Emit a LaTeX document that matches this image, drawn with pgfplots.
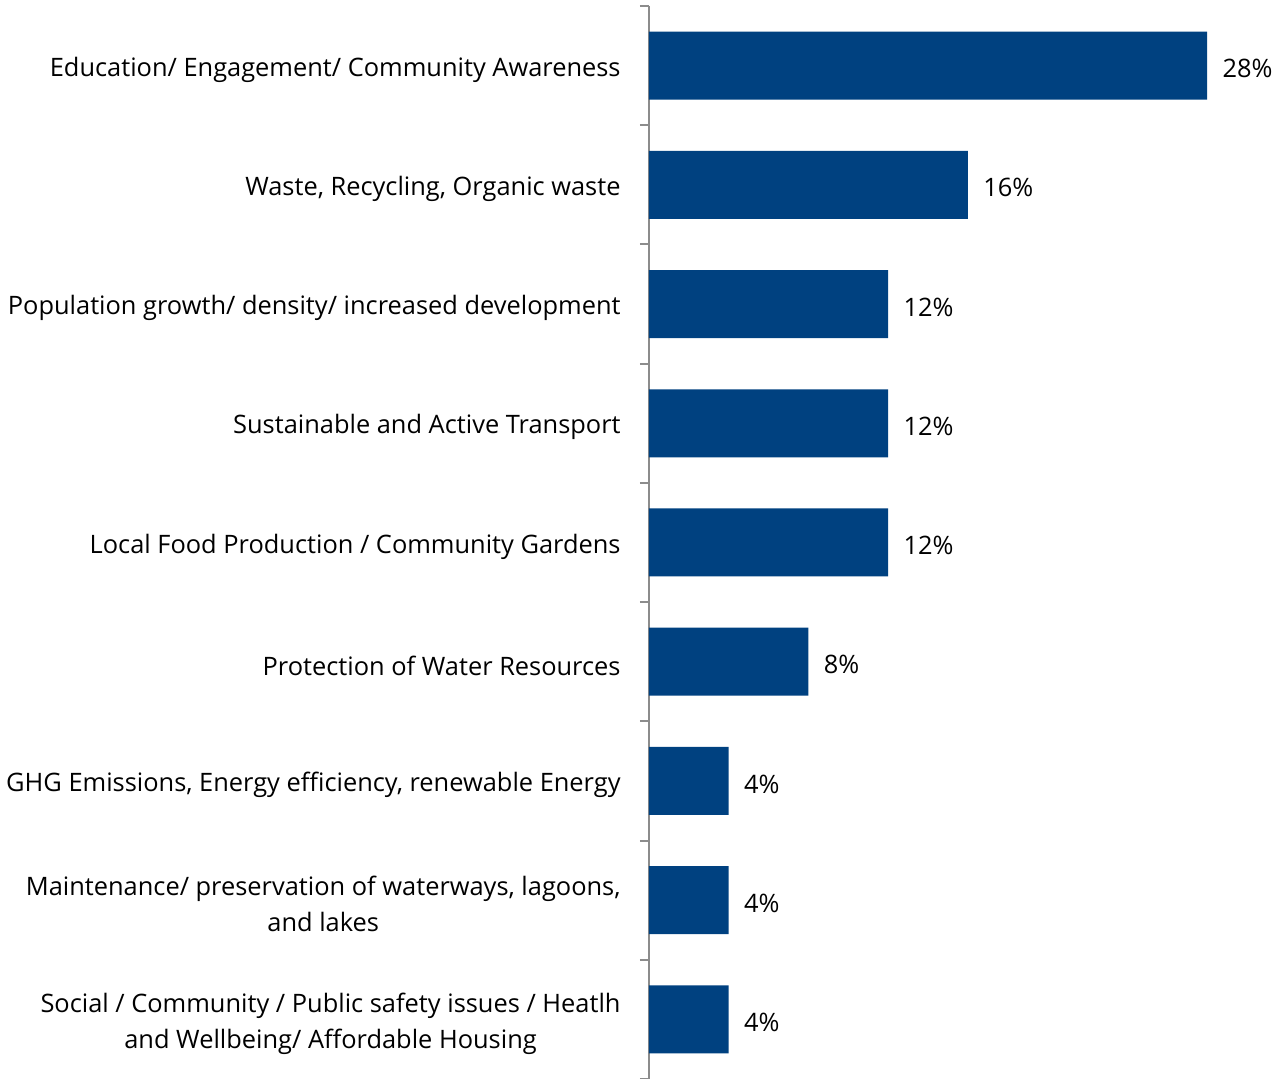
\documentclass[border=0pt]{standalone}
\usepackage{pgfplots}
\pgfplotsset{compat=1.18}
\usepackage{fontspec}
\setmainfont{Open Sans}
\definecolor{barblue}{RGB}{0,65,128}
\definecolor{axisgray}{RGB}{140,140,140}

\begin{document}
\begin{tikzpicture}
  \begin{axis}[
    at={(0,0)}, anchor=south west,
    scale only axis,
    width=299pt, height=536.5pt,
    xmin=0, xmax=30,
    ymin=-0.5, ymax=8.5,
    enlargelimits=false,
    axis x line=none,
    axis y line*=left,
    y axis line style={-, draw=axisgray, line width=1pt},
    ytick={0,...,8},
    yticklabels={
      {Social / Community / Public safety issues / Heatlh\\and Wellbeing/ Affordable Housing},
      {Maintenance/ preservation of waterways, lagoons,\\and lakes},
      {GHG Emissions, Energy efficiency, renewable Energy},
      {Protection of Water Resources},
      {Local Food Production / Community Gardens},
      {Sustainable and Active Transport},
      {Population growth/ density/ increased development},
      {Waste, Recycling, Organic waste},
      {Education/ Engagement/ Community Awareness}},
    minor ytick={-0.5,0.5,...,8.5},
    tick align=outside,
    major tick length=0pt,
    minor tick length=4.5pt,
    minor tick style={draw=axisgray, line width=1pt},
    yticklabel style={align=center, inner sep=0pt, xshift=-14pt, yshift=-2pt,
      font=\fontsize{12.7}{18}\selectfont},
    point meta=x,
    /pgf/number format/assume math mode=true,
    nodes near coords={\pgfmathprintnumber{\pgfplotspointmeta}\%},
    nodes near coords style={anchor=west, inner sep=0pt, xshift=7.5pt, yshift=-1.5pt,
      font=\fontsize{12.7}{18}\selectfont, text=black},
  ]
    \addplot[xbar, fill=barblue, draw=none, bar width=34pt]
      coordinates {(28,8) (16,7) (12,6) (12,5) (12,4) (8,3) (4,2) (4,1) (4,0)};
  \end{axis}
  \pgfresetboundingbox
  \path[use as bounding box] (-324.5pt,0pt) rectangle (316.5pt,539.5pt);
\end{tikzpicture}
\end{document}
